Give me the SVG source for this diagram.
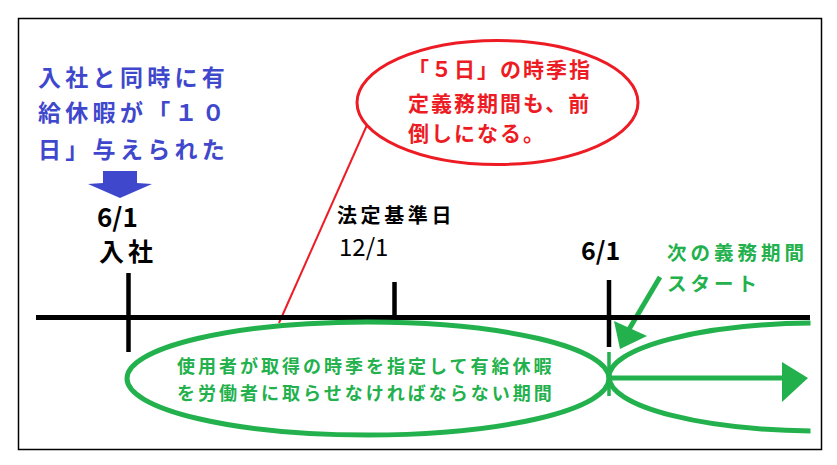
<svg xmlns="http://www.w3.org/2000/svg" width="837" height="465" viewBox="0 0 837 465">
<style>
text{font-family:"Noto Sans CJK JP","Noto Sans",sans-serif;font-weight:bold}
.blue{fill:#3f48cc;font-size:23px;letter-spacing:4.3px}
.red{fill:#ed1c24;font-size:21px;letter-spacing:2px}
.grn{fill:#22b14c}
.blk{fill:#000}
.gline{stroke:#22b14c;stroke-width:5;fill:none}
.tick{stroke:#000;stroke-width:4.5}
</style>
<defs>
<clipPath id="clipR"><rect x="600" y="300" width="210.5" height="150"/></clipPath>
</defs>
<rect x="18.5" y="18.5" width="803" height="431" fill="#fff" stroke="#000" stroke-width="1.5"/>

<g id="connectors">
<line x1="279" y1="323" x2="367" y2="125" stroke="#ed1c24" stroke-width="2"/>
<line x1="660" y1="277" x2="628" y2="331" class="gline"/>
<polygon points="620,349 614,321 647,336" fill="#22b14c"/>
<line x1="609" y1="378" x2="785" y2="378" class="gline"/>
<polygon points="782,362 808,378 782,402" fill="#22b14c"/>
</g>

<g id="timeline">
<line x1="36" y1="317.5" x2="810" y2="317.5" stroke="#000" stroke-width="5"/>
<line x1="128.5" y1="273" x2="128.5" y2="352" class="tick"/>
<line x1="394.5" y1="282" x2="394.5" y2="318" class="tick"/>
<line x1="609" y1="280" x2="609" y2="347" class="tick"/>
<line x1="609" y1="352" x2="609" y2="396" stroke="#22b14c" stroke-width="3.5"/>
</g>

<g id="note-blue">
<text class="blue" x="38" y="86">入社と同時に有</text>
<text class="blue" x="38" y="121">給休暇が「１０</text>
<text class="blue" x="38" y="158">日」与えられた</text>
<polygon points="103,171 137,171 137,183 152,184 120,198 88,184 103,183" fill="#3f48cc"/>
</g>

<g id="start-date">
<text class="blk" x="97" y="227" font-size="26">6/1</text>
<text class="blk" x="99" y="261" font-size="25" letter-spacing="4">入社</text>
</g>

<g id="base-date">
<text class="blk" x="337" y="223" font-size="20" letter-spacing="3.6">法定基準日</text>
<text class="blk" x="339" y="256" font-size="24" style="font-weight:normal">12/1</text>
</g>

<g id="next-date">
<text class="blk" x="581" y="260" font-size="25">6/1</text>
</g>

<g id="next-period">
<text class="grn" x="667" y="260" font-size="19.5" letter-spacing="4">次の義務期間</text>
<text class="grn" x="667" y="291" font-size="19.5" letter-spacing="4">スタート</text>
</g>

<g id="red-callout">
<ellipse cx="497.5" cy="102.5" rx="140.5" ry="62" fill="none" stroke="#ed1c24" stroke-width="3"/>
<text class="red" x="408" y="77">「５日」の時季指</text>
<text class="red" x="408" y="111">定義務期間も、前</text>
<text class="red" x="408" y="141">倒しになる。</text>
</g>

<g id="period">
<ellipse cx="368" cy="378.5" rx="241" ry="56.5" class="gline"/>
<text class="grn" x="177" y="373" font-size="18" letter-spacing="3">使用者が取得の時季を指定して有給休暇</text>
<text class="grn" x="177" y="400" font-size="18" letter-spacing="3">を労働者に取らせなければならない期間</text>
</g>

<g id="next-period-shape">
<ellipse cx="820" cy="377" rx="211" ry="54" class="gline" clip-path="url(#clipR)"/>
</g>
</svg>
